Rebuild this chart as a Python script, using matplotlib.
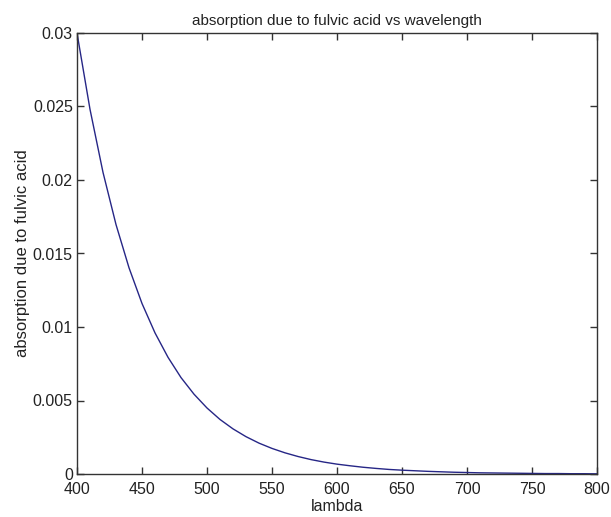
import matplotlib
matplotlib.use("Agg")
import matplotlib.pyplot as plt

plt.rcParams['font.family'] = ['Liberation Sans', 'DejaVu Sans']

wavelength = [400, 410, 420, 430, 440, 450, 460, 470, 480, 490,
              500, 510, 520, 530, 540, 550, 560, 570, 580, 590,
              600, 610, 620, 630, 640, 650, 660, 670, 680, 690,
              700, 710, 720, 730, 740, 750, 760, 770, 780, 790, 800]
absorption = [0.0300, 0.02481, 0.02052, 0.01697, 0.01403, 0.01160, 0.00960,
              0.00794, 0.00656, 0.00543, 0.00449, 0.00371, 0.00307, 0.00254,
              0.00210, 0.00174, 0.00144, 0.00119, 0.00098, 0.00081, 0.00067,
              0.00056, 0.00046, 0.00038, 0.00031, 0.00026, 0.00022, 0.00018,
              0.00015, 0.00012, 0.00010, 0.00008, 0.00007, 0.00006, 0.00005,
              0.00004, 0.00003, 0.00003, 0.00002, 0.00002, 0.00001]
xticks = [400, 450, 500, 550, 600, 650, 700, 750, 800]
yticks = [0, 0.005, 0.01, 0.015, 0.02, 0.025, 0.03]
ytick_labels = ['0', '0.005', '0.01', '0.015', '0.02', '0.025', '0.03']

fig = plt.figure(figsize=(6.11, 5.17), dpi=100)
ax = fig.add_axes([77/611, 1 - 474/517, (597 - 77)/611, (474 - 33)/517])
ax.plot(wavelength, absorption, color='#262686', linewidth=1.0)
ax.set_xlim(400, 800)
ax.set_ylim(0, 0.03)
ax.set_xticks(xticks)
ax.set_xticklabels([str(t) for t in xticks])
ax.set_yticks(yticks)
ax.set_yticklabels(ytick_labels)
ax.tick_params(direction='in', top=True, right=True, length=5, width=1,
               labelsize=11.5, colors='#333333', labelcolor='#222222')
ax.tick_params(axis='x', pad=6)
ax.tick_params(axis='y', pad=3)
for lbl in ax.get_yticklabels():
    lbl.set_verticalalignment('center_baseline')
for s in ax.spines.values():
    s.set_color('#333333')
    s.set_linewidth(1.0)
ax.set_title('absorption due to fulvic acid vs wavelength', fontsize=11, pad=6, color='#222222')
ax.set_xlabel('lambda', fontsize=11.5, labelpad=1, color='#222222')
ax.set_ylabel('absorption due to fulvic acid', fontsize=12, labelpad=2, color='#222222')
fig.savefig('out.png', dpi=100, facecolor='white')
